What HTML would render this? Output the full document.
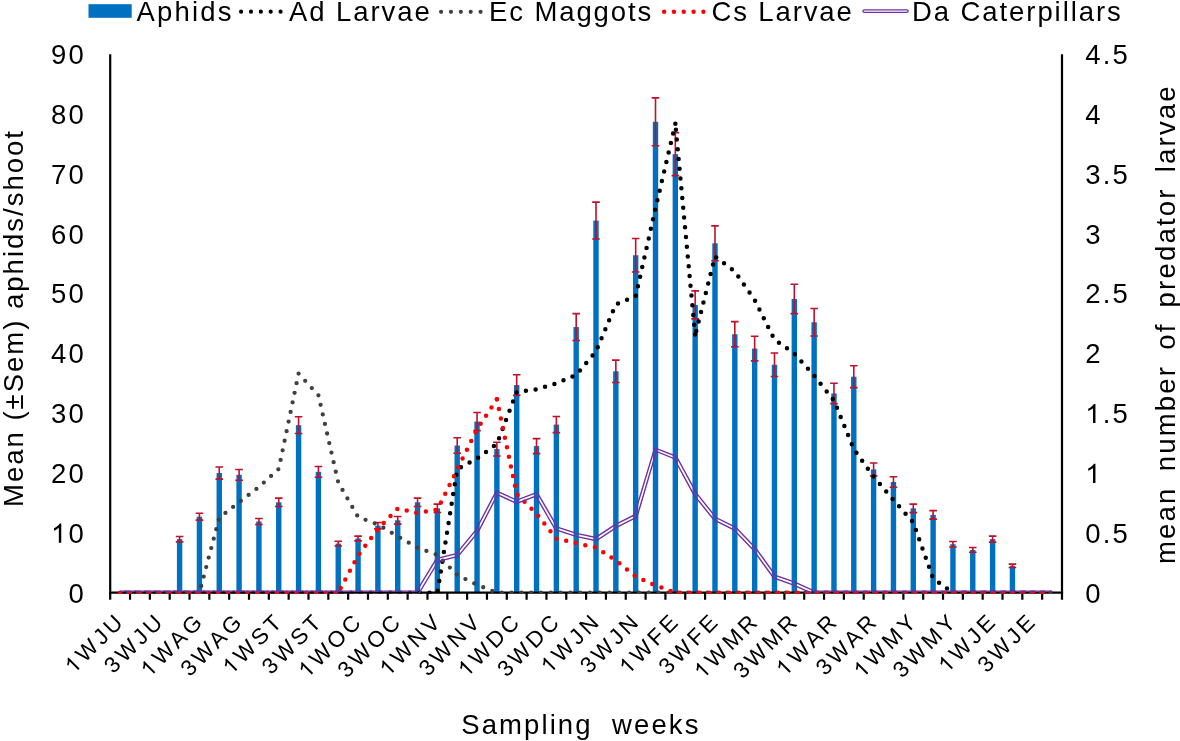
<!DOCTYPE html>
<html><head><meta charset="utf-8"><style>
html,body{margin:0;padding:0;background:#fff;}
body{width:1180px;height:741px;overflow:hidden;font-family:"Liberation Sans", sans-serif;}
svg{display:block;will-change:transform;} text{white-space:pre;}
</style></head><body>
<svg width="1180" height="741" viewBox="0 0 1180 741">
<g fill="#0070C0">
<rect x="176.90" y="539.15" width="5.40" height="53.55"/>
<rect x="196.73" y="516.71" width="5.40" height="75.99"/>
<rect x="216.56" y="473.03" width="5.40" height="119.67"/>
<rect x="236.39" y="474.83" width="5.40" height="117.87"/>
<rect x="256.22" y="521.50" width="5.40" height="71.20"/>
<rect x="276.05" y="502.35" width="5.40" height="90.35"/>
<rect x="295.88" y="425.17" width="5.40" height="167.53"/>
<rect x="315.71" y="471.84" width="5.40" height="120.86"/>
<rect x="335.54" y="543.64" width="5.40" height="49.06"/>
<rect x="355.36" y="538.49" width="5.40" height="54.21"/>
<rect x="375.19" y="525.69" width="5.40" height="67.01"/>
<rect x="395.02" y="520.30" width="5.40" height="72.40"/>
<rect x="414.85" y="502.35" width="5.40" height="90.35"/>
<rect x="434.68" y="508.34" width="5.40" height="84.37"/>
<rect x="454.51" y="445.51" width="5.40" height="147.19"/>
<rect x="474.34" y="421.58" width="5.40" height="171.12"/>
<rect x="494.17" y="449.10" width="5.40" height="143.60"/>
<rect x="514.00" y="385.08" width="5.40" height="207.62"/>
<rect x="533.83" y="446.11" width="5.40" height="146.59"/>
<rect x="553.66" y="424.57" width="5.40" height="168.13"/>
<rect x="573.49" y="327.04" width="5.40" height="265.66"/>
<rect x="593.31" y="220.54" width="5.40" height="372.16"/>
<rect x="613.14" y="371.32" width="5.40" height="221.38"/>
<rect x="632.97" y="255.24" width="5.40" height="337.46"/>
<rect x="652.80" y="121.81" width="5.40" height="470.89"/>
<rect x="672.63" y="154.12" width="5.40" height="438.58"/>
<rect x="692.46" y="304.90" width="5.40" height="287.80"/>
<rect x="712.29" y="243.27" width="5.40" height="349.43"/>
<rect x="732.12" y="334.22" width="5.40" height="258.48"/>
<rect x="751.95" y="348.58" width="5.40" height="244.12"/>
<rect x="771.78" y="364.74" width="5.40" height="227.97"/>
<rect x="791.61" y="298.92" width="5.40" height="293.78"/>
<rect x="811.44" y="322.25" width="5.40" height="270.45"/>
<rect x="831.26" y="393.46" width="5.40" height="199.25"/>
<rect x="851.09" y="376.70" width="5.40" height="216.00"/>
<rect x="870.92" y="469.44" width="5.40" height="123.26"/>
<rect x="890.75" y="482.01" width="5.40" height="110.69"/>
<rect x="910.58" y="508.34" width="5.40" height="84.37"/>
<rect x="930.41" y="514.92" width="5.40" height="77.78"/>
<rect x="950.24" y="544.24" width="5.40" height="48.47"/>
<rect x="970.07" y="549.92" width="5.40" height="42.78"/>
<rect x="989.90" y="539.09" width="5.40" height="53.61"/>
<rect x="1009.73" y="565.78" width="5.40" height="26.92"/>
</g>
<g stroke="#C0102A" stroke-width="1.6" fill="none">
<path d="M179.60 536.46 V541.84 M175.80 536.46 h7.6 M175.80 541.84 h7.6"/>
<path d="M199.43 513.30 V520.12 M195.63 513.30 h7.6 M195.63 520.12 h7.6"/>
<path d="M219.26 466.93 V479.14 M215.46 466.93 h7.6 M215.46 479.14 h7.6"/>
<path d="M239.09 469.44 V480.21 M235.29 469.44 h7.6 M235.29 480.21 h7.6"/>
<path d="M258.92 518.51 V524.49 M255.12 518.51 h7.6 M255.12 524.49 h7.6"/>
<path d="M278.75 498.16 V506.54 M274.95 498.16 h7.6 M274.95 506.54 h7.6"/>
<path d="M298.58 416.79 V433.54 M294.78 416.79 h7.6 M294.78 433.54 h7.6"/>
<path d="M318.41 466.45 V477.22 M314.61 466.45 h7.6 M314.61 477.22 h7.6"/>
<path d="M338.24 541.24 V546.03 M334.44 541.24 h7.6 M334.44 546.03 h7.6"/>
<path d="M358.06 536.10 V540.88 M354.26 536.10 h7.6 M354.26 540.88 h7.6"/>
<path d="M377.89 522.46 V528.92 M374.09 522.46 h7.6 M374.09 528.92 h7.6"/>
<path d="M397.72 516.47 V524.13 M393.92 516.47 h7.6 M393.92 524.13 h7.6"/>
<path d="M417.55 498.16 V506.54 M413.75 498.16 h7.6 M413.75 506.54 h7.6"/>
<path d="M437.38 504.15 V512.52 M433.58 504.15 h7.6 M433.58 512.52 h7.6"/>
<path d="M457.21 437.73 V453.29 M453.41 437.73 h7.6 M453.41 453.29 h7.6"/>
<path d="M477.04 412.48 V430.67 M473.24 412.48 h7.6 M473.24 430.67 h7.6"/>
<path d="M496.87 442.22 V455.98 M493.07 442.22 h7.6 M493.07 455.98 h7.6"/>
<path d="M516.70 374.79 V395.37 M512.90 374.79 h7.6 M512.90 395.37 h7.6"/>
<path d="M536.53 438.63 V453.59 M532.73 438.63 h7.6 M532.73 453.59 h7.6"/>
<path d="M556.36 416.49 V432.65 M552.56 416.49 h7.6 M552.56 432.65 h7.6"/>
<path d="M576.19 313.64 V340.44 M572.39 313.64 h7.6 M572.39 340.44 h7.6"/>
<path d="M596.01 202.11 V238.97 M592.21 202.11 h7.6 M592.21 238.97 h7.6"/>
<path d="M615.84 360.13 V382.51 M612.04 360.13 h7.6 M612.04 382.51 h7.6"/>
<path d="M635.67 238.43 V272.05 M631.87 238.43 h7.6 M631.87 272.05 h7.6"/>
<path d="M655.50 97.88 V145.75 M651.70 97.88 h7.6 M651.70 145.75 h7.6"/>
<path d="M675.33 132.58 V175.66 M671.53 132.58 h7.6 M671.53 175.66 h7.6"/>
<path d="M695.16 290.90 V318.90 M691.36 290.90 h7.6 M691.36 318.90 h7.6"/>
<path d="M714.99 225.86 V260.68 M711.19 225.86 h7.6 M711.19 260.68 h7.6"/>
<path d="M734.82 321.66 V346.79 M731.02 321.66 h7.6 M731.02 346.79 h7.6"/>
<path d="M754.65 336.25 V360.91 M750.85 336.25 h7.6 M750.85 360.91 h7.6"/>
<path d="M774.48 352.95 V376.52 M770.68 352.95 h7.6 M770.68 376.52 h7.6"/>
<path d="M794.31 284.20 V313.64 M790.51 284.20 h7.6 M790.51 313.64 h7.6"/>
<path d="M814.14 308.55 V335.96 M810.34 308.55 h7.6 M810.34 335.96 h7.6"/>
<path d="M833.96 383.28 V403.63 M830.16 383.28 h7.6 M830.16 403.63 h7.6"/>
<path d="M853.79 365.81 V387.59 M849.99 365.81 h7.6 M849.99 387.59 h7.6"/>
<path d="M873.62 463.04 V475.85 M869.82 463.04 h7.6 M869.82 475.85 h7.6"/>
<path d="M893.45 476.80 V487.21 M889.65 476.80 h7.6 M889.65 487.21 h7.6"/>
<path d="M913.28 504.09 V512.58 M909.48 504.09 h7.6 M909.48 512.58 h7.6"/>
<path d="M933.11 510.67 V519.16 M929.31 510.67 h7.6 M929.31 519.16 h7.6"/>
<path d="M952.94 541.54 V546.93 M949.14 541.54 h7.6 M949.14 546.93 h7.6"/>
<path d="M972.77 547.53 V552.31 M968.97 547.53 h7.6 M968.97 552.31 h7.6"/>
<path d="M992.60 536.10 V542.08 M988.80 536.10 h7.6 M988.80 542.08 h7.6"/>
<path d="M1012.43 564.10 V567.45 M1008.63 564.10 h7.6 M1008.63 567.45 h7.6"/>
</g>
<g stroke="#000" stroke-width="2.2" fill="none">
<path d="M110.2 54.2 V599.7 M1062.0 54.2 V599.7"/>
<path d="M109.1 592.7 H1063.1"/>
<path d="M130.03 592.7 v7 M149.86 592.7 v7 M169.69 592.7 v7 M189.52 592.7 v7 M209.35 592.7 v7 M229.18 592.7 v7 M249.00 592.7 v7 M268.83 592.7 v7 M288.66 592.7 v7 M308.49 592.7 v7 M328.32 592.7 v7 M348.15 592.7 v7 M367.98 592.7 v7 M387.81 592.7 v7 M407.64 592.7 v7 M427.47 592.7 v7 M447.30 592.7 v7 M467.12 592.7 v7 M486.95 592.7 v7 M506.78 592.7 v7 M526.61 592.7 v7 M546.44 592.7 v7 M566.27 592.7 v7 M586.10 592.7 v7 M605.93 592.7 v7 M625.76 592.7 v7 M645.59 592.7 v7 M665.42 592.7 v7 M685.25 592.7 v7 M705.08 592.7 v7 M724.90 592.7 v7 M744.73 592.7 v7 M764.56 592.7 v7 M784.39 592.7 v7 M804.22 592.7 v7 M824.05 592.7 v7 M843.88 592.7 v7 M863.71 592.7 v7 M883.54 592.7 v7 M903.37 592.7 v7 M923.20 592.7 v7 M943.02 592.7 v7 M962.85 592.7 v7 M982.68 592.7 v7 M1002.51 592.7 v7 M1022.34 592.7 v7 M1042.17 592.7 v7 "/>
</g>
<defs><clipPath id="pc"><rect x="0" y="0" width="1180" height="593.7"/></clipPath>
</defs>
<g clip-path="url(#pc)">
<path d="M120.11 592.70 L139.94 592.70 L159.77 592.70 L179.60 592.70 L199.43 592.70 L219.26 592.70 L239.09 592.70 L258.92 592.70 L278.75 592.70 L298.58 592.70 L318.41 592.70 L338.24 592.70 L358.06 592.70 L377.89 592.70 L397.72 592.70 L417.55 592.70 L437.38 592.70 L457.21 469.20 L477.04 458.43 L496.87 443.95 L516.70 391.90 L536.53 389.39 L556.36 383.40 L576.19 374.91 L596.01 351.45 L615.84 304.30 L635.67 296.29 L655.50 208.33 L675.33 123.85" fill="none" stroke="#000" stroke-width="4.5" stroke-linecap="round" stroke-dasharray="0 9.8" stroke-dashoffset="4.17" stroke-linejoin="round"/>
<path d="M675.33 123.85 L695.16 335.30" fill="none" stroke="#000" stroke-width="4.5" stroke-linecap="round" stroke-dasharray="0 9.8" stroke-dashoffset="3.95" stroke-linejoin="round"/>
<path d="M695.16 335.30 L714.99 256.44 L734.82 271.51 L754.65 299.88 L774.48 339.61 L794.31 353.49 L814.14 375.62 L833.96 400.52 L853.79 448.98 L873.62 476.74 L893.45 499.96 L913.28 522.46 L933.11 578.46 L952.94 592.70 L972.77 592.70 L992.60 592.70 L1012.43 592.70 L1032.26 592.70 L1052.09 592.70" fill="none" stroke="#000" stroke-width="4.5" stroke-linecap="round" stroke-dasharray="0 9.8" stroke-dashoffset="5.30" stroke-linejoin="round"/>
<path d="M120.11 592.70 L139.94 592.70 L159.77 592.70 L179.60 592.70 L199.43 592.70 L219.26 517.79 L239.09 502.23 L258.92 487.03 L278.75 468.96 L298.58 373.59" fill="none" stroke="#404040" stroke-width="4.3" stroke-linecap="round" stroke-dasharray="0 9.8" stroke-dashoffset="1.96" stroke-linejoin="round"/>
<path d="M298.58 373.59 L318.41 395.25 L338.24 482.49 L358.06 516.95 L377.89 524.49 L397.72 536.34 L417.55 547.71 L437.38 555.00 L457.21 574.99 L477.04 584.80 L496.87 592.70 L516.70 592.70 L536.53 592.70 L556.36 592.70 L576.19 592.70 L596.01 592.70 L615.84 592.70 L635.67 592.70 L655.50 592.70 L675.33 592.70 L695.16 592.70 L714.99 592.70 L734.82 592.70 L754.65 592.70 L774.48 592.70 L794.31 592.70 L814.14 592.70 L833.96 592.70 L853.79 592.70 L873.62 592.70 L893.45 592.70 L913.28 592.70 L933.11 592.70 L952.94 592.70 L972.77 592.70 L992.60 592.70 L1012.43 592.70 L1032.26 592.70 L1052.09 592.70" fill="none" stroke="#404040" stroke-width="4.3" stroke-linecap="round" stroke-dasharray="0 9.8" stroke-dashoffset="0.00" stroke-linejoin="round"/>
<path d="M120.11 592.70 L139.94 592.70 L159.77 592.70 L179.60 592.70 L199.43 592.70 L219.26 592.70 L239.09 592.70 L258.92 592.70 L278.75 592.70 L298.58 592.70 L318.41 592.70 L338.24 592.70" fill="none" stroke="#f00" stroke-width="4.5" stroke-linecap="round" stroke-dasharray="0 9.8" stroke-dashoffset="0.00" stroke-linejoin="round"/>
<path d="M338.24 592.70 L358.06 555.48 L377.89 529.04 L397.72 508.45 L417.55 513.00 L437.38 509.65 L457.21 469.44 L477.04 429.24 L496.87 399.32" fill="none" stroke="#f00" stroke-width="4.5" stroke-linecap="round" stroke-dasharray="0 9.8" stroke-dashoffset="4.59" stroke-linejoin="round"/>
<path d="M496.87 399.32 L516.70 493.98 L536.53 513.72 L556.36 538.61 L576.19 543.16 L596.01 547.47 L615.84 560.51 L635.67 576.55 L655.50 585.40 L675.33 592.70" fill="none" stroke="#f00" stroke-width="4.5" stroke-linecap="round" stroke-dasharray="0 9.8" stroke-dashoffset="0.00" stroke-linejoin="round"/>
<path d="M675.33 592.70 L695.16 592.70 L714.99 592.70 L734.82 592.70 L754.65 592.70 L774.48 592.70 L794.31 592.70 L814.14 592.70 L833.96 592.70 L853.79 592.70 L873.62 592.70 L893.45 592.70 L913.28 592.70 L933.11 592.70 L952.94 592.70 L972.77 592.70 L992.60 592.70 L1012.43 592.70 L1032.26 592.70 L1052.09 592.70" fill="none" stroke="#f00" stroke-width="4.5" stroke-linecap="round" stroke-dasharray="0 9.8" stroke-dashoffset="5.00" stroke-linejoin="round"/>
<path d="M120.11 594.25 L139.94 594.25 L159.77 594.25 L179.60 594.25 L199.43 594.25 L219.26 594.25 L239.09 594.25 L258.92 594.25 L278.75 594.25 L298.58 594.25 L318.41 594.25 L338.24 594.25 L358.06 594.25 L377.89 594.25 L397.72 594.25 L418.43 594.25 L438.38 561.26 L458.08 556.39 L478.34 531.93 L497.50 494.61 L516.65 503.43 L535.88 496.04 L555.31 529.73 L575.78 536.40 L596.33 540.74 L616.62 527.39 L636.97 517.08 L656.35 451.32 L674.24 458.71 L693.86 494.84 L713.99 519.98 L733.89 529.83 L753.45 550.14 L773.50 577.97 L793.73 585.04 L813.80 594.25 L833.96 594.25 L853.79 594.25 L873.62 594.25 L893.45 594.25 L913.28 594.25 L933.11 594.25 L952.94 594.25 L972.77 594.25 L992.60 594.25 L1012.43 594.25 L1032.26 594.25 L1052.09 594.25 M120.11 591.15 L139.94 591.15 L159.77 591.15 L179.60 591.15 L199.43 591.15 L219.26 591.15 L239.09 591.15 L258.92 591.15 L278.75 591.15 L298.58 591.15 L318.41 591.15 L338.24 591.15 L358.06 591.15 L377.89 591.15 L397.72 591.15 L416.68 591.15 L436.39 558.56 L456.34 553.62 L475.74 530.21 L496.23 490.95 L516.75 500.08 L537.18 492.39 L557.40 527.15 L576.59 533.40 L595.70 537.44 L615.06 524.70 L634.38 514.91 L654.66 447.83 L676.43 456.24 L696.46 493.11 L715.98 517.51 L735.75 527.29 L755.84 548.15 L775.45 575.36 L794.89 582.17 L814.47 591.15 L833.96 591.15 L853.79 591.15 L873.62 591.15 L893.45 591.15 L913.28 591.15 L933.11 591.15 L952.94 591.15 L972.77 591.15 L992.60 591.15 L1012.43 591.15 L1032.26 591.15 L1052.09 591.15" fill="none" stroke="#7030A0" stroke-width="1.4" stroke-linejoin="miter"/>
</g>
<g font-family='"Liberation Sans", sans-serif' font-size="27.5" letter-spacing="2.2" fill="#000">
<text x="86.0" y="602.6" text-anchor="end">0</text>
<text x="86.0" y="542.8" text-anchor="end"> 0</text>
<path transform="translate(51.01 542.77) scale(0.01343 -0.01343)" d="M763 0L583 0L583 1114Q518 1054 412 994Q306 934 222 903L222 1073Q373 1141 486 1240Q599 1338 646 1430L763 1430Z"/>
<text x="86.0" y="482.9" text-anchor="end">20</text>
<text x="86.0" y="423.1" text-anchor="end">30</text>
<text x="86.0" y="363.3" text-anchor="end">40</text>
<text x="86.0" y="303.4" text-anchor="end">50</text>
<text x="86.0" y="243.6" text-anchor="end">60</text>
<text x="86.0" y="183.8" text-anchor="end">70</text>
<text x="86.0" y="123.9" text-anchor="end">80</text>
<text x="86.0" y="64.1" text-anchor="end">90</text>
<text x="1085.2" y="602.6">0</text>
<text x="1085.2" y="542.8">0.5</text>
<text x="1085.2" y="482.9"> </text>
<path transform="translate(1085.20 482.93) scale(0.01343 -0.01343)" d="M763 0L583 0L583 1114Q518 1054 412 994Q306 934 222 903L222 1073Q373 1141 486 1240Q599 1338 646 1430L763 1430Z"/>
<text x="1085.2" y="423.1"> .5</text>
<path transform="translate(1085.20 423.10) scale(0.01343 -0.01343)" d="M763 0L583 0L583 1114Q518 1054 412 994Q306 934 222 903L222 1073Q373 1141 486 1240Q599 1338 646 1430L763 1430Z"/>
<text x="1085.2" y="363.3">2</text>
<text x="1085.2" y="303.4">2.5</text>
<text x="1085.2" y="243.6">3</text>
<text x="1085.2" y="183.8">3.5</text>
<text x="1085.2" y="123.9">4</text>
<text x="1085.2" y="64.1">4.5</text>
</g>
<g font-family='"Liberation Sans", sans-serif' font-size="22.5" letter-spacing="3.3" fill="#000">
<g transform="translate(126.31 621.90) rotate(-45)"><text text-anchor="end"> WJU</text>
<path transform="translate(-74.45 0.00) scale(0.01099 -0.01099)" d="M763 0L583 0L583 1114Q518 1054 412 994Q306 934 222 903L222 1073Q373 1141 486 1240Q599 1338 646 1430L763 1430Z"/>
</g>
<g transform="translate(165.97 621.90) rotate(-45)"><text text-anchor="end">3WJU</text>
</g>
<g transform="translate(205.63 621.90) rotate(-45)"><text text-anchor="end"> WAG</text>
<path transform="translate(-79.46 0.00) scale(0.01099 -0.01099)" d="M763 0L583 0L583 1114Q518 1054 412 994Q306 934 222 903L222 1073Q373 1141 486 1240Q599 1338 646 1430L763 1430Z"/>
</g>
<g transform="translate(245.29 621.90) rotate(-45)"><text text-anchor="end">3WAG</text>
</g>
<g transform="translate(284.95 621.90) rotate(-45)"><text text-anchor="end"> WST</text>
<path transform="translate(-75.70 0.00) scale(0.01099 -0.01099)" d="M763 0L583 0L583 1114Q518 1054 412 994Q306 934 222 903L222 1073Q373 1141 486 1240Q599 1338 646 1430L763 1430Z"/>
</g>
<g transform="translate(324.61 621.90) rotate(-45)"><text text-anchor="end">3WST</text>
</g>
<g transform="translate(364.26 621.90) rotate(-45)"><text text-anchor="end"> WOC</text>
<path transform="translate(-80.70 0.00) scale(0.01099 -0.01099)" d="M763 0L583 0L583 1114Q518 1054 412 994Q306 934 222 903L222 1073Q373 1141 486 1240Q599 1338 646 1430L763 1430Z"/>
</g>
<g transform="translate(403.92 621.90) rotate(-45)"><text text-anchor="end">3WOC</text>
</g>
<g transform="translate(443.58 621.90) rotate(-45)"><text text-anchor="end"> WNV</text>
<path transform="translate(-78.21 0.00) scale(0.01099 -0.01099)" d="M763 0L583 0L583 1114Q518 1054 412 994Q306 934 222 903L222 1073Q373 1141 486 1240Q599 1338 646 1430L763 1430Z"/>
</g>
<g transform="translate(483.24 621.90) rotate(-45)"><text text-anchor="end">3WNV</text>
</g>
<g transform="translate(522.90 621.90) rotate(-45)"><text text-anchor="end"> WDC</text>
<path transform="translate(-79.45 0.00) scale(0.01099 -0.01099)" d="M763 0L583 0L583 1114Q518 1054 412 994Q306 934 222 903L222 1073Q373 1141 486 1240Q599 1338 646 1430L763 1430Z"/>
</g>
<g transform="translate(562.56 621.90) rotate(-45)"><text text-anchor="end">3WDC</text>
</g>
<g transform="translate(602.21 621.90) rotate(-45)"><text text-anchor="end"> WJN</text>
<path transform="translate(-74.45 0.00) scale(0.01099 -0.01099)" d="M763 0L583 0L583 1114Q518 1054 412 994Q306 934 222 903L222 1073Q373 1141 486 1240Q599 1338 646 1430L763 1430Z"/>
</g>
<g transform="translate(641.87 621.90) rotate(-45)"><text text-anchor="end">3WJN</text>
</g>
<g transform="translate(681.53 621.90) rotate(-45)"><text text-anchor="end"> WFE</text>
<path transform="translate(-75.70 0.00) scale(0.01099 -0.01099)" d="M763 0L583 0L583 1114Q518 1054 412 994Q306 934 222 903L222 1073Q373 1141 486 1240Q599 1338 646 1430L763 1430Z"/>
</g>
<g transform="translate(721.19 621.90) rotate(-45)"><text text-anchor="end">3WFE</text>
</g>
<g transform="translate(760.85 621.90) rotate(-45)"><text text-anchor="end"> WMR</text>
<path transform="translate(-81.94 0.00) scale(0.01099 -0.01099)" d="M763 0L583 0L583 1114Q518 1054 412 994Q306 934 222 903L222 1073Q373 1141 486 1240Q599 1338 646 1430L763 1430Z"/>
</g>
<g transform="translate(800.51 621.90) rotate(-45)"><text text-anchor="end">3WMR</text>
</g>
<g transform="translate(840.16 621.90) rotate(-45)"><text text-anchor="end"> WAR</text>
<path transform="translate(-78.21 0.00) scale(0.01099 -0.01099)" d="M763 0L583 0L583 1114Q518 1054 412 994Q306 934 222 903L222 1073Q373 1141 486 1240Q599 1338 646 1430L763 1430Z"/>
</g>
<g transform="translate(879.82 621.90) rotate(-45)"><text text-anchor="end">3WAR</text>
</g>
<g transform="translate(919.48 621.90) rotate(-45)"><text text-anchor="end"> WMY</text>
<path transform="translate(-80.70 0.00) scale(0.01099 -0.01099)" d="M763 0L583 0L583 1114Q518 1054 412 994Q306 934 222 903L222 1073Q373 1141 486 1240Q599 1338 646 1430L763 1430Z"/>
</g>
<g transform="translate(959.14 621.90) rotate(-45)"><text text-anchor="end">3WMY</text>
</g>
<g transform="translate(998.80 621.90) rotate(-45)"><text text-anchor="end"> WJE</text>
<path transform="translate(-73.21 0.00) scale(0.01099 -0.01099)" d="M763 0L583 0L583 1114Q518 1054 412 994Q306 934 222 903L222 1073Q373 1141 486 1240Q599 1338 646 1430L763 1430Z"/>
</g>
<g transform="translate(1038.46 621.90) rotate(-45)"><text text-anchor="end">3WJE</text>
</g>
</g>
<g font-family='"Liberation Sans", sans-serif' font-size="27.5" letter-spacing="2.2" fill="#000">
<text transform="translate(22.5 507.0) rotate(-90)" letter-spacing="2.0">Mean (±Sem) aphids/shoot</text>
<text transform="translate(1175.0 564.0) rotate(-90)" word-spacing="-2.3">mean  number  of  predator  larvae</text>
<text x="461.2" y="734.4" letter-spacing="2.1">Sampling  weeks</text>
<text x="136.5" y="21.0">Aphids</text>
<text x="289.0" y="21.0" letter-spacing="1.93">Ad Larvae</text>
<text x="489.1" y="21.0" letter-spacing="1.88">Ec Maggots</text>
<text x="711.5" y="21.0" letter-spacing="1.86">Cs Larvae</text>
<text x="912.0" y="21.0" letter-spacing="1.92">Da Caterpillars</text>
</g>
<rect x="88.5" y="4.2" width="43.2" height="13.6" fill="#0070C0"/>
<path d="M241.1 11.7 H282" stroke="#000" stroke-width="4.2" stroke-linecap="round" stroke-dasharray="0 9.87" fill="none"/>
<path d="M441.1 11.8 H482" stroke="#404040" stroke-width="4.2" stroke-linecap="round" stroke-dasharray="0 9.87" fill="none"/>
<path d="M664.1 11.8 H705" stroke="#f00" stroke-width="4.4" stroke-linecap="round" stroke-dasharray="0 9.83" fill="none"/>
<path d="M864.2 11.1 H906.9" stroke="#7030A0" stroke-width="3.8" stroke-linecap="round" fill="none"/>
<path d="M864.2 11.1 H906.9" stroke="#fff" stroke-width="1.3" stroke-linecap="round" fill="none"/>
</svg>
</body></html>
